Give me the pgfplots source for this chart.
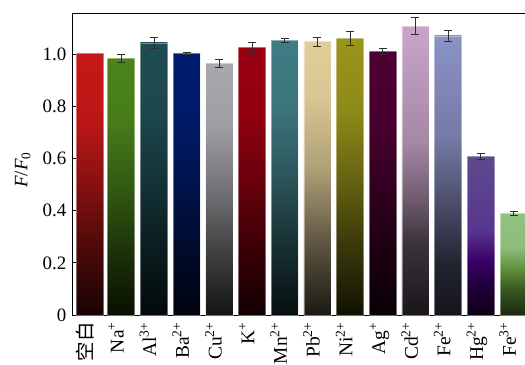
\documentclass[border=0pt]{standalone}
\usepackage{pgfplots}
\pgfplotsset{compat=1.18}
\usepackage{fontspec}
\setmainfont{Liberation Serif}
\newfontfamily\cjk{Noto Sans CJK SC}

% top colours of the bars
\definecolor{cBlank}{HTML}{C71818}
\definecolor{cNa}{HTML}{4B841A}
\definecolor{cAl}{HTML}{1E4C52}
\definecolor{cBa}{HTML}{001C70}
\definecolor{cCu}{HTML}{A9A8AD}
\definecolor{cK}{HTML}{9B0011}
\definecolor{cMn}{HTML}{3F7C83}
\definecolor{cPb}{HTML}{E2CE9A}
\definecolor{cNi}{HTML}{99941A}
\definecolor{cAg}{HTML}{4D0031}
\definecolor{cCd}{HTML}{C9A6C9}
\definecolor{cFe}{HTML}{8B92C6}
\definecolor{cHg}{HTML}{5E4A8E}
\definecolor{cFeIII}{HTML}{92C280}
\definecolor{ebar}{HTML}{2E2E2E}

% vertical fades; the bar spans 25bp (bottom) to 75bp (top)
\newcommand\fadeshading[2]{%
  \pgfdeclareverticalshading{#1}{100bp}{%
    color(0bp)=(#2!12!black); color(25bp)=(#2!12!black);
    color(37.5bp)=(#2!38!black); color(50bp)=(#2!68!black);
    color(62.5bp)=(#2!94!black); color(75bp)=(#2); color(100bp)=(#2)}}
\fadeshading{shBlank}{cBlank}
\fadeshading{shNa}{cNa}
\fadeshading{shAl}{cAl}
\fadeshading{shBa}{cBa}
\fadeshading{shCu}{cCu}
\fadeshading{shK}{cK}
\fadeshading{shMn}{cMn}
\fadeshading{shNi}{cNi}
\fadeshading{shAg}{cAg}
\pgfdeclareverticalshading{shPb}{100bp}{%
  color(0bp)=(cPb!12!black); color(25bp)=(cPb!12!black);
  color(37.5bp)=(cPb!40!black); color(52bp)=(cPb!78!black);
  color(65bp)=(cPb!96!black); color(75bp)=(cPb); color(100bp)=(cPb)}
\pgfdeclareverticalshading{shCd}{100bp}{%
  color(0bp)=(cCd!13!black); color(25bp)=(cCd!13!black);
  color(37.5bp)=(cCd!30!black); color(45bp)=(cCd!55!black);
  color(55bp)=(cCd!82!black); color(75bp)=(cCd); color(100bp)=(cCd)}
\pgfdeclareverticalshading{shFe}{100bp}{%
  color(0bp)=(cFe!14!black); color(25bp)=(cFe!14!black);
  color(34bp)=(cFe!24!black); color(43bp)=(cFe!48!black);
  color(57bp)=(cFe!84!black); color(75bp)=(cFe); color(100bp)=(cFe)}
\definecolor{hgDeep}{HTML}{3A0068}
\definecolor{hgMid}{HTML}{58368E}
\pgfdeclareverticalshading{shHg}{100bp}{%
  color(0bp)=(hgDeep!20!black); color(25bp)=(hgDeep!20!black);
  color(35bp)=(hgDeep!60!black); color(42bp)=(hgDeep);
  color(52bp)=(hgMid); color(75bp)=(cHg); color(100bp)=(cHg)}
\definecolor{feMid}{HTML}{5C8C38}
\pgfdeclareverticalshading{shFeIII}{100bp}{%
  color(0bp)=(feMid!30!black); color(25bp)=(feMid!30!black);
  color(37bp)=(feMid!60!black); color(47bp)=(feMid);
  color(58bp)=(cFeIII!90!feMid); color(75bp)=(cFeIII); color(100bp)=(cFeIII)}

\pgfplotsset{
  gbar/.style={ybar, bar shift=0pt, bar width=0.826, shade, shading=#1,
    draw=white, draw opacity=0.4, line width=0.6bp,
    error bars/.cd, y dir=both, y explicit,
    error bar style={ebar, line width=0.8bp, opacity=1},
    error mark options={rotate=90, ebar, mark size=4bp, line width=0.8bp, opacity=1}},
}

\begin{document}
\begin{tikzpicture}
\begin{axis}[
  name=ax,
  scale only axis,
  width=452.5bp, height=302bp,
  xmin=-0.49, xmax=13.35,
  ymin=0, ymax=1.158,
  axis y line*=left,
  axis x line*=box,
  axis line style={-, black, line width=0.9bp},
  xtick={0.05,1,2,3,4,5,6,7,8,9,10,11,12,13},
  xticklabels={{\cjk 空白}, Na\textsuperscript{+}, Al\textsuperscript{3+},
    Ba\textsuperscript{2+}, Cu\textsuperscript{2+}, K\textsuperscript{+},
    Mn\textsuperscript{2+}, Pb\textsuperscript{2+}, Ni\textsuperscript{2+},
    Ag\textsuperscript{+}, Cd\textsuperscript{2+}, Fe\textsuperscript{2+},
    Hg\textsuperscript{2+}, Fe\textsuperscript{3+}},
  ytick={0,0.2,0.4,0.6,0.8,1.0},
  yticklabels={0,0.2,0.4,0.6,0.8,1.0},
  xtick pos=lower, ytick pos=left,
  tick align=inside,
  major tick length=5bp,
  x tick style={draw=gray!35, line width=1.2bp},
  y tick style={draw=black, line width=0.8bp},
  tick label style={font=\fontsize{19}{22}\selectfont},
  xticklabel style={yshift=-6bp, rotate=90, anchor=mid east, inner sep=1bp,
    font=\fontsize{19.5}{22}\selectfont},
  yticklabel style={inner sep=2bp, xshift=-4bp},
  every axis y label/.style={at={(axis description cs:-0.11,0.48)},
    rotate=90, anchor=center, font=\fontsize{19}{22}\selectfont},
  ylabel={\textit{F}/\textit{F}\textsubscript{0}},
]
\addplot[gbar=shBlank] coordinates {(0.05,1.003)};
\addplot[gbar=shNa] coordinates {(1,0.985) +- (0,0.015)};
\addplot[gbar=shAl] coordinates {(2,1.043) +- (0,0.021)};
\addplot[gbar=shBa] coordinates {(3,1.004) +- (0,0.004)};
\addplot[gbar=shCu] coordinates {(4,0.966) +- (0,0.015)};
\addplot[gbar=shK] coordinates {(5,1.026) +- (0,0.019)};
\addplot[gbar=shMn] coordinates {(6,1.052) +- (0,0.008)};
\addplot[gbar=shPb] coordinates {(7,1.048) +- (0,0.017)};
\addplot[gbar=shNi] coordinates {(8,1.061) +- (0,0.028)};
\addplot[gbar=shAg] coordinates {(9,1.010) +- (0,0.012)};
\addplot[gbar=shCd] coordinates {(10,1.108) +- (0,0.033)};
\addplot[gbar=shFe] coordinates {(11,1.070) +- (0,0.022)};
\addplot[gbar=shHg] coordinates {(12,0.608) +- (0,0.012)};
\addplot[gbar=shFeIII] coordinates {(13,0.390) +- (0,0.008)};
\end{axis}
\pgfresetboundingbox
\path[use as bounding box] ([xshift=-72.5bp,yshift=-50bp]ax.south west)
  rectangle ([yshift=13bp]ax.north east);
\end{tikzpicture}
\end{document}
